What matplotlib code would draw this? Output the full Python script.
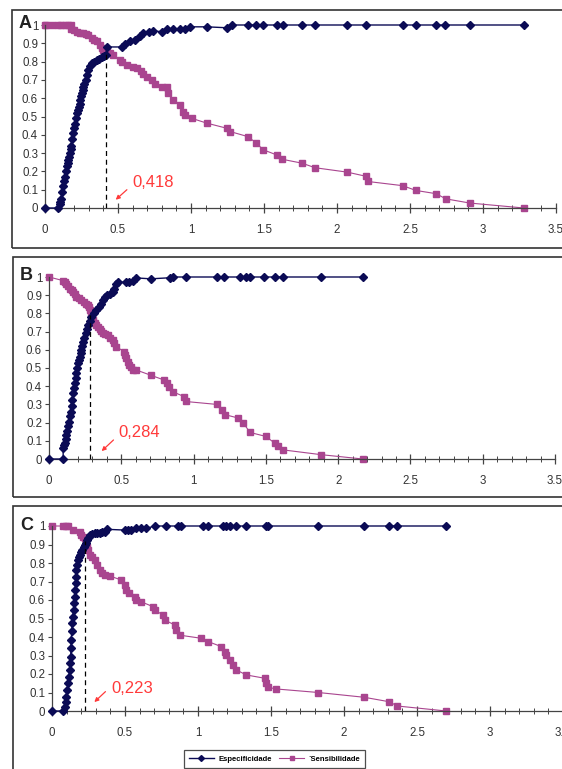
import matplotlib
matplotlib.use("Agg")
import matplotlib.pyplot as plt
from matplotlib.patches import Rectangle
from matplotlib.lines import Line2D
from matplotlib.ticker import MultipleLocator

plt.rcParams["font.family"] = ["Liberation Sans", "DejaVu Sans"]

W, H = 562, 769

# ---- panel A ----
a_esp_x = [0, 0.09, 0.1, 0.105, 0.11, 0.118, 0.125, 0.13, 0.137, 0.142, 0.148, 0.155, 0.16, 0.166,
           0.171, 0.176, 0.18, 0.185, 0.19, 0.197, 0.205, 0.21, 0.217, 0.225, 0.233, 0.237, 0.24,
           0.246, 0.251, 0.257, 0.263, 0.27, 0.28, 0.288, 0.297, 0.308, 0.32, 0.337, 0.354, 0.37,
           0.388, 0.405, 0.418, 0.422, 0.525, 0.548, 0.58, 0.616, 0.65, 0.67, 0.71, 0.74, 0.8,
           0.833, 0.88, 0.925, 0.96, 0.99, 1.107, 1.244, 1.28, 1.39, 1.445, 1.495, 1.587, 1.63,
           1.76, 1.85, 2.07, 2.2, 2.45, 2.54, 2.68, 2.74, 2.91, 3.28]
a_esp_y = [0, 0, 0.02, 0.035, 0.05, 0.085, 0.12, 0.145, 0.17, 0.2, 0.23, 0.245, 0.26, 0.28,
           0.30, 0.32, 0.34, 0.375, 0.41, 0.435, 0.46, 0.49, 0.52, 0.535, 0.55, 0.57, 0.59,
           0.61, 0.63, 0.645, 0.66, 0.68, 0.70, 0.728, 0.755, 0.775, 0.79, 0.80, 0.81, 0.816,
           0.823, 0.83, 0.836, 0.88, 0.88, 0.895, 0.91, 0.92, 0.94, 0.955, 0.964, 0.967, 0.964,
           0.976, 0.976, 0.98, 0.98, 0.99, 0.99, 0.985, 1, 1, 1, 1, 1, 1,
           1, 1, 1, 1, 1, 1, 1, 1, 1, 1]
a_sen_x = [0, 0.01, 0.05, 0.09, 0.11, 0.14, 0.16, 0.18, 0.18, 0.2, 0.217, 0.24, 0.263, 0.28,
           0.297, 0.32, 0.337, 0.354, 0.377, 0.39, 0.4, 0.422, 0.445, 0.468, 0.514, 0.525, 0.56,
           0.605, 0.628, 0.66, 0.674, 0.696, 0.73, 0.753, 0.8, 0.833, 0.845, 0.88, 0.925, 0.947,
           0.96, 1.005, 1.107, 1.244, 1.267, 1.39, 1.447, 1.495, 1.587, 1.62, 1.76, 1.85, 2.07,
           2.2, 2.21, 2.45, 2.54, 2.68, 2.745, 2.91, 3.28]
a_sen_y = [1, 1, 1, 1, 1, 1, 1, 1, 0.98, 0.97, 0.964, 0.958, 0.955, 0.95,
           0.945, 0.927, 0.918, 0.91, 0.89, 0.877, 0.864, 0.855, 0.845, 0.836, 0.81, 0.8, 0.78,
           0.77, 0.764, 0.75, 0.733, 0.715, 0.7, 0.68, 0.66, 0.66, 0.627, 0.59, 0.565, 0.527,
           0.51, 0.49, 0.464, 0.436, 0.418, 0.39, 0.355, 0.318, 0.29, 0.267, 0.245, 0.22, 0.196,
           0.173, 0.145, 0.122, 0.096, 0.078, 0.05, 0.027, 0]

# ---- panel B ----
b_esp_x = [0, 0.098, 0.098, 0.104, 0.11, 0.116, 0.121, 0.127, 0.133, 0.139, 0.144, 0.15, 0.156,
           0.162, 0.167, 0.172, 0.178, 0.184, 0.19, 0.195, 0.2, 0.207, 0.213, 0.219, 0.224, 0.23,
           0.236, 0.245, 0.254, 0.262, 0.27, 0.282, 0.293, 0.31, 0.327, 0.343, 0.36, 0.372, 0.384,
           0.4, 0.419, 0.44, 0.453, 0.465, 0.476, 0.533, 0.556, 0.579, 0.6, 0.705, 0.84, 0.855,
           0.95, 1.16, 1.21, 1.32, 1.36, 1.39, 1.49, 1.56, 1.62, 1.88, 2.17]
b_esp_y = [0, 0, 0.06, 0.075, 0.088, 0.11, 0.133, 0.155, 0.18, 0.205, 0.234, 0.26, 0.29,
           0.325, 0.36, 0.39, 0.416, 0.443, 0.47, 0.5, 0.526, 0.545, 0.562, 0.58, 0.6, 0.62,
           0.644, 0.667, 0.69, 0.712, 0.735, 0.757, 0.78, 0.8, 0.818, 0.836, 0.854, 0.872, 0.89,
           0.9, 0.907, 0.916, 0.936, 0.964, 0.973, 0.97, 0.973, 0.98, 0.995, 0.99, 0.996, 1,
           1, 1, 1, 1, 1, 1, 1, 1, 1, 1, 1]
b_sen_x = [0, 0.098, 0.11, 0.121, 0.133, 0.144, 0.156, 0.167, 0.178, 0.19, 0.207, 0.224, 0.242,
           0.259, 0.27, 0.28, 0.287, 0.293, 0.298, 0.304, 0.315, 0.327, 0.338, 0.35, 0.362, 0.373,
           0.39, 0.407, 0.425, 0.44, 0.452, 0.465, 0.52, 0.527, 0.533, 0.545, 0.556, 0.568, 0.579,
           0.6, 0.705, 0.796, 0.813, 0.83, 0.855, 0.934, 0.945, 1.16, 1.2, 1.22, 1.31, 1.345,
           1.39, 1.5, 1.56, 1.585, 1.62, 1.88, 2.17]
b_sen_y = [1, 0.98, 0.972, 0.964, 0.95, 0.936, 0.927, 0.918, 0.904, 0.89, 0.883, 0.876, 0.865,
           0.854, 0.845, 0.836, 0.818, 0.8, 0.782, 0.763, 0.749, 0.735, 0.726, 0.717, 0.703, 0.69,
           0.685, 0.68, 0.667, 0.653, 0.635, 0.617, 0.59, 0.572, 0.553, 0.535, 0.516, 0.503, 0.49,
           0.49, 0.46, 0.434, 0.416, 0.398, 0.37, 0.343, 0.316, 0.3, 0.27, 0.243, 0.225, 0.197,
           0.146, 0.124, 0.088, 0.07, 0.05, 0.024, 0]

# ---- panel C ----
c_esp_x = [0, 0.075, 0.087, 0.093, 0.098, 0.104, 0.11, 0.115, 0.121, 0.125, 0.128, 0.13, 0.132,
           0.135, 0.139, 0.143, 0.148, 0.151, 0.155, 0.158, 0.162, 0.165, 0.167, 0.172, 0.178,
           0.184, 0.19, 0.199, 0.208, 0.216, 0.224, 0.232, 0.24, 0.249, 0.258, 0.275, 0.292,
           0.309, 0.326, 0.343, 0.36, 0.377, 0.5, 0.52, 0.543, 0.573, 0.61, 0.646, 0.703, 0.783,
           0.863, 0.886, 1.034, 1.07, 1.17, 1.19, 1.22, 1.26, 1.33, 1.463, 1.48, 1.824, 2.14,
           2.31, 2.365, 2.7]
c_esp_y = [0, 0, 0.023, 0.05, 0.077, 0.113, 0.15, 0.185, 0.22, 0.257, 0.294, 0.34, 0.384,
           0.43, 0.474, 0.51, 0.546, 0.582, 0.618, 0.654, 0.69, 0.726, 0.762, 0.79, 0.816,
           0.83, 0.843, 0.857, 0.87, 0.884, 0.897, 0.91, 0.924, 0.937, 0.95, 0.955, 0.96,
           0.962, 0.964, 0.967, 0.97, 0.982, 0.978, 0.978, 0.98, 0.987, 0.987, 0.987, 1, 1,
           1, 1, 1, 1, 1, 1, 1, 1, 1, 1, 1, 1, 1,
           1, 1, 1]
c_sen_x = [0, 0.075, 0.098, 0.11, 0.144, 0.19, 0.2, 0.212, 0.224, 0.23, 0.238, 0.247, 0.258,
           0.275, 0.292, 0.31, 0.326, 0.343, 0.36, 0.395, 0.475, 0.5, 0.51, 0.527, 0.566, 0.578,
           0.612, 0.692, 0.703, 0.76, 0.772, 0.84, 0.85, 0.874, 1.023, 1.07, 1.16, 1.183, 1.194,
           1.217, 1.24, 1.263, 1.33, 1.457, 1.468, 1.48, 1.537, 1.824, 2.14, 2.31, 2.365, 2.7]
c_sen_y = [1, 1, 1, 1, 0.978, 0.97, 0.95, 0.94, 0.933, 0.906, 0.888, 0.87, 0.843,
           0.83, 0.816, 0.79, 0.762, 0.748, 0.735, 0.73, 0.708, 0.68, 0.654, 0.636, 0.618, 0.6,
           0.59, 0.564, 0.546, 0.519, 0.492, 0.465, 0.438, 0.41, 0.393, 0.375, 0.348, 0.32, 0.303,
           0.276, 0.249, 0.222, 0.195, 0.177, 0.153, 0.128, 0.119, 0.1, 0.074, 0.05, 0.027, 0]

panel_letters = ["A", "B", "C"]
cutoffs = [0.418, 0.284, 0.223]
cutoff_labels = ["0,418", "0,284", "0,223"]
cutoff_heights = [0.86, 0.79, 0.92]
esp_x = [a_esp_x, b_esp_x, c_esp_x]
esp_y = [a_esp_y, b_esp_y, c_esp_y]
sen_x = [a_sen_x, b_sen_x, c_sen_x]
sen_y = [a_sen_y, b_sen_y, c_sen_y]
x_ticks = [0, 0.5, 1, 1.5, 2, 2.5, 3, 3.5]
y_ticks = [0, 0.1, 0.2, 0.3, 0.4, 0.5, 0.6, 0.7, 0.8, 0.9, 1]

NAVY = "#0b0b55"
MAGENTA = "#a9458f"
RED = "#ff3a3a"
GRAY = "#444444"

# layout in pixels: (left, right at 3.5, top at y=1, bottom at y=0)
AXES_PX = [(45, 556, 25, 208), (49, 555, 277, 459), (52, 563, 526, 711)]
BOX_PX = [(12, 10, 248), (13, 257, 497), (13, 506, 775)]
LETTER_X = [19, 20, 20]
TEXT_POS = [(0.6, 0.137), (0.48, 0.146), (0.41, 0.122)]
ARROW_FROM = [(0.575, 0.11), (0.46, 0.115), (0.38, 0.115)]
ARROW_TO = [(0.47, 0.035), (0.35, 0.033), (0.276, 0.038)]

fig = plt.figure(figsize=(W / 100, H / 100), dpi=100)

for i in range(3):
    bx, bt, bb = BOX_PX[i]
    fig.add_artist(Rectangle((bx / W, 1 - bb / H), (W + 10 - bx) / W, (bb - bt) / H,
                             transform=fig.transFigure, fill=False, ec="#333333", lw=1.2))

    l, r, t, b = AXES_PX[i]
    ax = fig.add_axes([l / W, 1 - b / H, (r - l) / W, (b - t) / H])
    ax.set_facecolor("none")
    ax.plot(esp_x[i], esp_y[i], color=NAVY, lw=1.0, marker="D", ms=3.8, mfc=NAVY,
            mec=NAVY, clip_on=False, zorder=3, label="Especificidade")
    ax.plot(sen_x[i], sen_y[i], color=MAGENTA, lw=0.8, marker="s", ms=4.4, mfc=MAGENTA,
            mec=MAGENTA, clip_on=False, zorder=2, label="\u00b4Sensibilidade")
    ax.plot([cutoffs[i], cutoffs[i]], [0, cutoff_heights[i]], color="black", lw=0.9,
            ls=(0, (4, 3)), zorder=4)
    ax.annotate("", xy=ARROW_TO[i], xytext=ARROW_FROM[i],
                arrowprops=dict(arrowstyle="-|>", color=RED, lw=0.9, mutation_scale=6))
    ax.text(TEXT_POS[i][0], TEXT_POS[i][1], cutoff_labels[i], color=RED, fontsize=12,
            ha="left", va="center")

    ax.set_xlim(0, 3.5)
    ax.set_ylim(0, 1)
    ax.set_xticks(x_ticks)
    ax.set_xticklabels(["0", "0.5", "1", "1.5", "2", "2.5", "3", "3.5"])
    ax.xaxis.set_minor_locator(MultipleLocator(0.1))
    ax.set_yticks(y_ticks)
    ax.set_yticklabels(["0", "0.1", "0.2", "0.3", "0.4", "0.5", "0.6", "0.7", "0.8", "0.9", "1"])
    for s in ["top", "right"]:
        ax.spines[s].set_visible(False)
    for s in ["left", "bottom"]:
        ax.spines[s].set_color(GRAY)
        ax.spines[s].set_linewidth(0.9)
    ax.tick_params(axis="x", which="major", direction="inout", length=7, width=0.9,
                   color=GRAY, labelsize=8.3, labelcolor="#333333", pad=8)
    ax.tick_params(axis="x", which="minor", direction="inout", length=4, width=0.7, color=GRAY)
    ax.tick_params(axis="y", which="major", direction="out", length=3, width=0.8,
                   color=GRAY, labelsize=8.3, labelcolor="#333333", pad=2)

    fig.text(LETTER_X[i] / W, 1 - (t - 1) / H, panel_letters[i], fontsize=13,
             fontweight="bold", color="#222222", ha="left", va="center")

legend_handles = [
    Line2D([], [], color=NAVY, lw=1.0, marker="D", ms=3, mfc=NAVY, mec=NAVY),
    Line2D([], [], color=MAGENTA, lw=0.8, marker="s", ms=3.5, mfc=MAGENTA, mec=MAGENTA),
]
leg = fig.legend(legend_handles, ["Especificidade", "\u00b4Sensibilidade"],
                 loc="upper left", bbox_to_anchor=(180 / W, 1 - 746 / H), ncol=2,
                 fontsize=5.5, frameon=True, fancybox=False, edgecolor="#222222",
                 handlelength=3.2, columnspacing=1.0, handletextpad=0.6, borderpad=0.7,
                 prop={"weight": "bold", "size": 5.5})
leg.get_frame().set_linewidth(0.9)

fig.savefig("out.png", dpi=100)
